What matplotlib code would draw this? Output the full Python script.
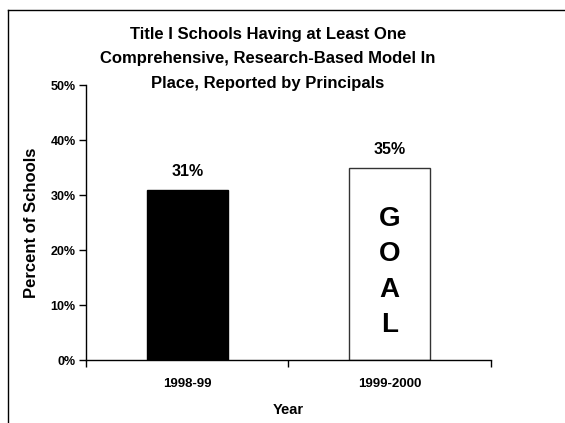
import numpy as np
import matplotlib.pyplot as plt
from matplotlib.lines import Line2D

plt.rcParams['font.family'] = ['Liberation Sans', 'DejaVu Sans']
plt.rcParams['font.weight'] = 'bold'

years = ['1998-99', '1999-2000']
pct = [31, 35]
barColors = ['black', 'white']
goalText = ['G', 'O', 'A', 'L']
yTicks = [0, 10, 20, 30, 40, 50]

fig = plt.figure(figsize=(5.65, 4.23), dpi=100)
ax = fig.add_axes([0.1522, 0.1489, 0.7168, 0.6501])

xPos = np.arange(len(years))
ax.bar(xPos, pct, width=0.40, color=barColors, edgecolor=['black', '#333333'],
       linewidth=1.0, zorder=2)

for x, v in zip(xPos, pct):
    ax.text(x, v + 2.0, '%d%%' % v, ha='center', va='bottom', fontsize=11.5,
            fontweight='bold')

# GOAL letters stacked in the second bar
for i, ch in enumerate(goalText):
    ax.text(xPos[1], 25.7 - i * 6.45, ch, ha='center', va='center',
            fontsize=20, fontweight='bold')

ax.set_xlim(-0.5, 1.5)
ax.set_ylim(0, 50)
ax.set_yticks(yTicks)
ax.set_yticklabels(['%d%%' % t for t in yTicks], fontsize=9, fontweight='bold')
ax.set_xticks(xPos)
ax.set_xticklabels(years, fontsize=9.5, fontweight='bold')
ax.set_xticks([-0.5, 0.5, 1.5], minor=True)
ax.tick_params(axis='x', which='major', length=0, pad=13)
ax.tick_params(axis='x', which='minor', length=5, direction='out', width=1)
ax.tick_params(axis='y', length=5, direction='out', width=1, pad=2.5)

ax.spines['top'].set_visible(False)
ax.spines['right'].set_visible(False)
ax.spines['left'].set_linewidth(1)
ax.spines['bottom'].set_linewidth(1)

ax.set_xlabel('Year', fontsize=10.5, fontweight='bold', labelpad=9)
ax.set_ylabel('Percent of Schools', fontsize=12, fontweight='bold', labelpad=8)

fig.text(0.474, 0.937, 'Title I Schools Having at Least One\n'
         'Comprehensive, Research-Based Model In\n'
         'Place, Reported by Principals',
         ha='center', va='top', fontsize=12, fontweight='bold', linespacing=1.8)

# outer frame (cropped at right and bottom)
fig.add_artist(Line2D([8 / 565, 1.0], [1 - 10 / 423, 1 - 10 / 423],
                      transform=fig.transFigure, color='black', linewidth=1))
fig.add_artist(Line2D([8 / 565, 8 / 565], [0.0, 1 - 10 / 423],
                      transform=fig.transFigure, color='black', linewidth=1))

fig.savefig('out.png', dpi=100)
